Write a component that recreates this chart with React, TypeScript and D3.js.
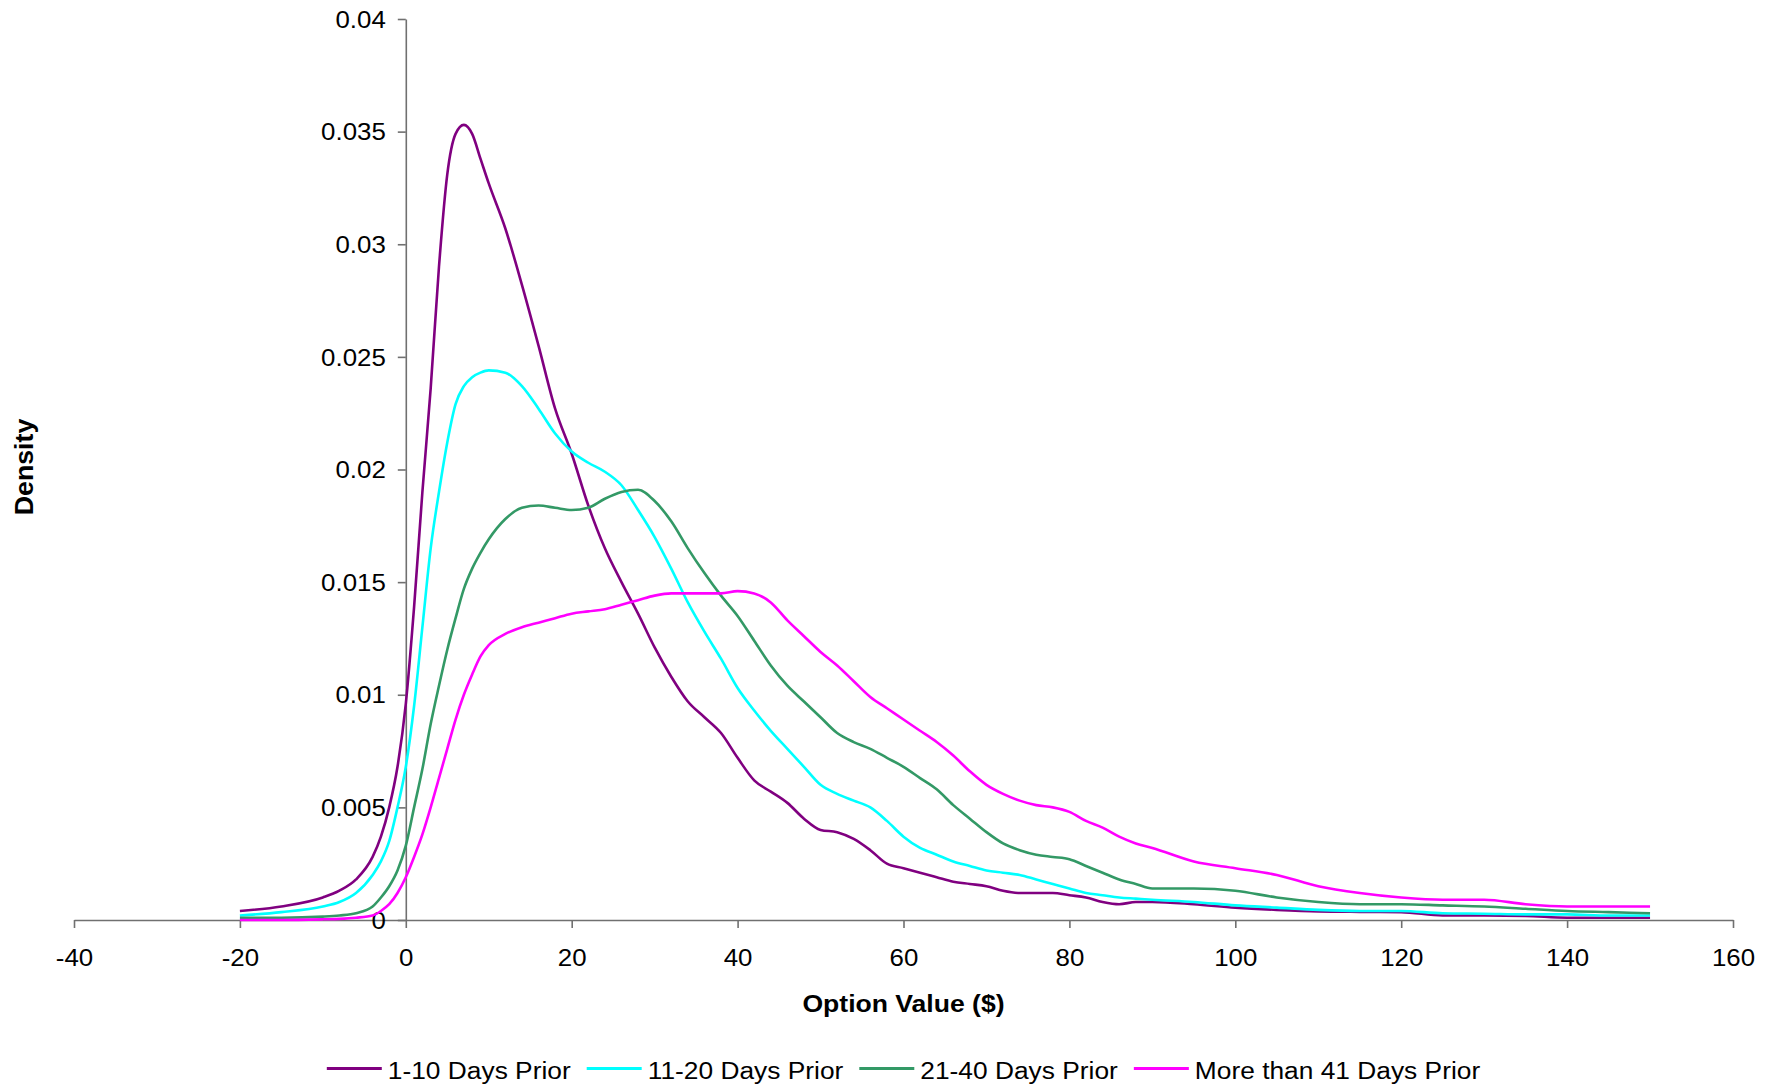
import * as d3 from 'd3';
import React, { useRef, useEffect } from 'react';

// option value ($) grid the densities were read at
const optionValues = [
  -20, -15, -10, -8, -6, -4, -3, -2, -1, 0,
  1, 2, 3, 4, 5, 6, 7, 8, 9, 10,
  12, 14, 16, 18, 20, 22, 24, 26, 28, 30,
  32, 34, 36, 38, 40, 42, 44, 46, 48, 50,
  52, 54, 56, 58, 60, 62, 64, 66, 68, 70,
  72, 74, 76, 78, 80, 82, 84, 86, 88, 90,
  95, 100, 105, 110, 115, 120, 125, 130, 135, 140, 145, 150
];

const days1to10 = [
  0.0004, 0.0006, 0.001, 0.0013, 0.0018, 0.0028, 0.0037, 0.005, 0.0068, 0.0096,
  0.0139, 0.019, 0.0236, 0.029, 0.0331, 0.0349, 0.0353, 0.0349, 0.0338, 0.0327,
  0.0307, 0.0282, 0.0255, 0.0227, 0.0207, 0.0184, 0.0165, 0.015, 0.0136, 0.0121,
  0.0108, 0.0097, 0.009, 0.0083, 0.0072, 0.0062, 0.0057, 0.0052, 0.0045, 0.004,
  0.0039, 0.0036, 0.0031, 0.0025, 0.0023, 0.0021, 0.0019, 0.0017, 0.0016, 0.0015,
  0.0013, 0.0012, 0.0012, 0.0012, 0.0011, 0.001, 0.0008, 0.0007, 0.0008, 0.0008,
  0.0007, 0.00055, 0.00045, 0.00038, 0.00036, 0.00035, 0.0002, 0.0002, 0.00018, 0.0001, 0.0001, 0.0001
];

const days11to20 = [
  0.0002, 0.00035, 0.0006, 0.0008, 0.0012, 0.002, 0.0026, 0.0035, 0.005, 0.0068,
  0.0095, 0.013, 0.0165, 0.019, 0.0212, 0.0229, 0.0237, 0.0241, 0.0243, 0.0244,
  0.0243, 0.0237, 0.0227, 0.0216, 0.0208, 0.0203, 0.0199, 0.0193, 0.0182, 0.017,
  0.0156, 0.0141, 0.0128, 0.0116, 0.0103, 0.0093, 0.0084, 0.0076, 0.0068, 0.006,
  0.0056, 0.0053, 0.005, 0.0044, 0.0037, 0.0032, 0.0029, 0.0026, 0.0024, 0.0022,
  0.0021, 0.002, 0.0018, 0.0016, 0.0014, 0.0012, 0.0011, 0.001, 0.00095, 0.0009,
  0.0008, 0.00065, 0.00055, 0.00045, 0.0004, 0.0004, 0.0003, 0.00028, 0.00025, 0.00025, 0.0002, 0.0002
];

const days21to40 = [
  0.0001, 0.0001, 0.00015, 0.0002, 0.0003, 0.0006, 0.001, 0.0015, 0.0022, 0.0033,
  0.005, 0.0067, 0.0087, 0.0104, 0.012, 0.0134, 0.0147, 0.0156, 0.0163, 0.0169,
  0.0178, 0.0183, 0.0184, 0.0183, 0.0182, 0.0183, 0.0187, 0.019, 0.0191, 0.0186,
  0.0177, 0.0165, 0.0154, 0.0144, 0.0135, 0.0124, 0.0113, 0.0104, 0.0097, 0.009,
  0.0083, 0.0079, 0.0076, 0.0072, 0.0068, 0.0063, 0.0058, 0.0051, 0.0045, 0.0039,
  0.0034, 0.0031, 0.0029, 0.0028, 0.0027, 0.0024, 0.0021, 0.0018, 0.0016, 0.0014,
  0.0014, 0.0013, 0.001, 0.0008, 0.0007, 0.0007, 0.00065, 0.0006, 0.0005, 0.0004, 0.00035, 0.0003
];

const daysOver41 = [
  0, 0, 0.00003, 0.00005, 0.0001, 0.0002, 0.0004, 0.0007, 0.0012, 0.0019,
  0.0028, 0.0038, 0.005, 0.0063, 0.0076, 0.0089, 0.01, 0.0109, 0.0117, 0.0122,
  0.0127, 0.013, 0.0132, 0.0134, 0.0136, 0.0137, 0.0138, 0.014, 0.0142, 0.0144,
  0.0145, 0.0145, 0.0145, 0.0145, 0.0146, 0.0145, 0.0141, 0.0133, 0.0126, 0.0119,
  0.0113, 0.0106, 0.0099, 0.0094, 0.0089, 0.0084, 0.0079, 0.0073, 0.0066, 0.006,
  0.0056, 0.0053, 0.0051, 0.005, 0.0048, 0.0044, 0.0041, 0.0037, 0.0034, 0.0032,
  0.0026, 0.0023, 0.002, 0.0015, 0.0012, 0.001, 0.0009, 0.0009, 0.0007, 0.0006, 0.0006, 0.0006
];

const seriesNames = ["1-10 Days Prior", "11-20 Days Prior", "21-40 Days Prior", "More than 41 Days Prior"];
const seriesColors = ["#800080", "#00ffff", "#339966", "#ff00ff"];
const xTicks = [-40, -20, 0, 20, 40, 60, 80, 100, 120, 140, 160];
const yTickLabels = ["0", "0.005", "0.01", "0.015", "0.02", "0.025", "0.03", "0.035", "0.04"];

function App() {
  const ref = useRef(null);

  useEffect(() => {
    const svg = d3.select(ref.current);
    svg.selectAll("*").remove();

    const font = '"Liberation Sans", Arial, sans-serif';
    const fontSize = 23.3;
    const stretch = 1.11; // the original text is a bit wide
    const axisColor = "#707070";

    const x = d3.scaleLinear().domain([-40, 160]).range([74, 1733]);
    const y = d3.scaleLinear().domain([0, 0.04]).range([920, 19]);

    // x axis
    const gx = svg.append("g")
      .attr("transform", "translate(0," + y(0) + ")")
      .call(d3.axisBottom(x).tickValues(xTicks).tickSize(8).tickSizeOuter(0).tickFormat(d => String(d)));
    gx.attr("color", axisColor).attr("font-family", font).attr("font-size", fontSize);
    gx.select(".domain").attr("stroke-width", 1.6);
    gx.selectAll(".tick line").attr("stroke-width", 1.6);
    gx.selectAll("text")
      .attr("fill", "#000")
      .attr("y", 38)
      .attr("dy", "0.35em")
      .attr("transform", `scale(${stretch},1)`);

    // y axis
    const gy = svg.append("g")
      .attr("transform", "translate(" + x(0) + ",0)")
      .call(d3.axisLeft(y)
        .tickValues(yTickLabels.map(Number))
        .tickFormat((d, i) => yTickLabels[i])
        .tickSize(8)
        .tickSizeOuter(0));
    gy.attr("color", axisColor).attr("font-family", font).attr("font-size", fontSize);
    gy.select(".domain").attr("stroke-width", 1.6);
    gy.selectAll(".tick line").attr("stroke-width", 1.6);
    gy.selectAll("text")
      .attr("fill", "#000")
      .attr("x", -20 / stretch)
      .attr("dy", "0.35em")
      .attr("transform", `scale(${stretch},1)`);

    // density curves
    const allSeries = [days1to10, days11to20, days21to40, daysOver41];
    const line = d3.line()
      .x(d => x(d[0]))
      .y(d => y(d[1]))
      .curve(d3.curveMonotoneX);

    allSeries.forEach((vals, i) => {
      svg.append("path")
        .datum(optionValues.map((v, j) => [v, vals[j]]))
        .attr("fill", "none")
        .attr("stroke", seriesColors[i])
        .attr("stroke-width", 2.6)
        .attr("stroke-linejoin", "round")
        .attr("d", line);
    });

    // axis titles
    svg.append("text")
      .attr("transform", `translate(${(x(-40) + x(160)) / 2},1011.5) scale(1.08,1)`)
      .attr("text-anchor", "middle")
      .attr("font-family", font)
      .attr("font-weight", "bold")
      .attr("font-size", 24.6)
      .text("Option Value ($)");

    svg.append("text")
      .attr("transform", "translate(33,467) rotate(-90) scale(1.07,1)")
      .attr("text-anchor", "middle")
      .attr("font-family", font)
      .attr("font-weight", "bold")
      .attr("font-size", 25)
      .text("Density");

    // legend, centred under the plot
    const lineLen = 55, textGap = 6, itemGap = 16, legendStretch = 1.13;
    const legend = svg.append("g");
    const items = seriesNames.map((name, i) => {
      const g = legend.append("g");
      g.append("line")
        .attr("x1", 0).attr("x2", lineLen)
        .attr("y1", 1068.5).attr("y2", 1068.5)
        .attr("stroke", seriesColors[i])
        .attr("stroke-width", 2.8);
      const t = g.append("text")
        .attr("transform", `translate(${lineLen + textGap},1079) scale(${legendStretch},1)`)
        .attr("font-family", font)
        .attr("font-size", fontSize)
        .text(name);
      const w = lineLen + textGap + t.node().getComputedTextLength() * legendStretch;
      return { g, w };
    });
    const total = d3.sum(items, d => d.w) + itemGap * (items.length - 1);
    let cx = (x(-40) + x(160)) / 2 - total / 2;
    items.forEach(it => {
      it.g.attr("transform", "translate(" + cx + ",0)");
      cx += it.w + itemGap;
    });
  }, []);

  return (
    <svg ref={ref} width={1778} height={1089}
      style={{ position: "absolute", left: 0, top: 0, background: "#fff" }}></svg>
  );
}

export default App;
